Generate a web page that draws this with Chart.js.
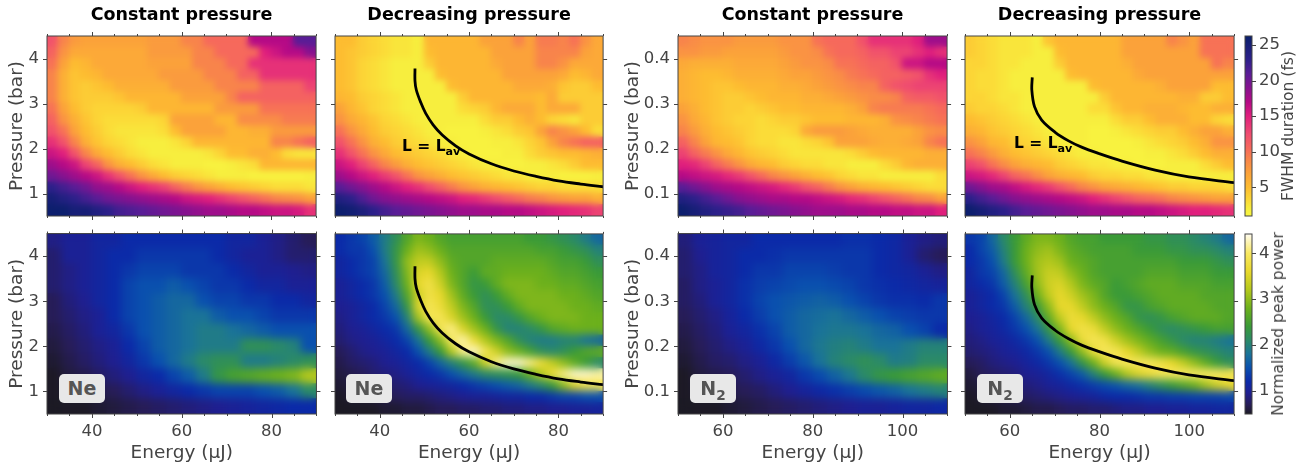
<!DOCTYPE html>
<html><head><meta charset="utf-8">
<script src="https://cdn.jsdelivr.net/npm/chart.js@4/dist/chart.umd.js"></script>
<style>
html,body{margin:0;padding:0;background:#fff;width:1307px;height:467px;overflow:hidden;font-family:"DejaVu Sans",sans-serif}
canvas{position:absolute}
.badge{position:absolute;width:46px;height:29px;line-height:29px;border-radius:5px;background:#e8e8e8;color:#555;font-weight:bold;font-size:19px;text-align:center}
.badge sub,.lav sub{font-size:.72em;line-height:0;vertical-align:-0.35em}
.lav{position:absolute;font-weight:bold;font-size:15.5px;color:#000;white-space:nowrap}
.cbt{position:absolute;font-size:15.5px;color:#444;white-space:nowrap;transform:translate(-50%,-50%) rotate(-90deg)}
</style></head><body>
<script>
const topLevels=[1,2,3,5,7,9,10.5,12.5,15,17,19,21,23,26.3];
const topColors=['#f8f640','#f7ee3e','#fbdc38','#fdbc31','#fba23a','#f8844b','#f6695c','#ef4c70','#e01f7d','#b50a86','#86128f','#591d96','#2c208a','#0a1f6b'];
const powerLevels=[.49,.7,.95,1.2,1.5,1.8,2.1,2.4,2.8,3.2,3.6,4,4.42];
const powerColors=['#1c1a24','#271d58','#1f1f90','#0b2aa8','#0a50ae','#1a7398','#2b8a68','#3a9a38','#6cb01c','#b4c81c','#e8d82c','#f8e860','#fffcf0'];

const energyNe=[30,90], energyN2=[50,110], pressureNe=[.5,4.5], pressureN2=[.05,.45];
const durationRange=[.97,26.26], powerRange=[.49,4.42];
const xMajorNe=[40,60,80], xMinorNe=[30,35,45,50,55,65,70,75,85,90];
const xMajorN2=[60,80,100], xMinorN2=[50,55,65,70,75,85,90,95,105,110];
const yMajorNe=[1,2,3,4], yMajorN2=[.1,.2,.3,.4];
const durationTicks=[5,10,15,20,25], powerTicks=[1,2,3,4];

const curveNeE=[47.9,47.9,48.2,49.2,50.3,52,54,57,60,65,70,75,80,85,90];
const curveNeP=[3.78,3.5,3.3,3.02,2.78,2.52,2.3,2.06,1.88,1.66,1.5,1.38,1.28,1.21,1.15];
const curveN2E=[65,64.9,65.5,67.1,70.1,73.1,76,79.8,85,92.4,99.9,110];
const curveN2P=[.358,.33,.293,.263,.236,.217,.203,.189,.172,.152,.137,.124];

const durNeConst=[
[12,9,7.5,7,7,7,7,7,7,7.5,7.5,7.5,9,9,10.5,10.5,10.5,10.5,17,17,17,17,21,21],
[11,8,6.5,6.5,6.5,6.5,6.5,6.5,6.5,7.5,7.5,7.5,7.5,9,9,10.5,10.5,10.5,10.5,15,16,17,17,19],
[10,7,5,5.5,6.5,6.5,6.5,6.5,6.5,7,7,7,7,9,9,9,10.5,10.5,14,14,14,14,14,14],
[9,6,4.5,5,5.5,6.5,6.5,6.5,6.5,6.5,7.5,7.5,7.5,7.5,9,9,9,11,11,14,14,14,14,14],
[9,6,4.5,4,4.5,5,6,6,6,6,6,7.5,7.5,7.5,7.5,9,9,9,9,11,11,11,11,13],
[9,6,4.5,4,4,4,4.5,5.5,5.5,5.5,5.5,5.5,7,7,7,7,9,11,11,11,11,11,11,11],
[10,7,5,4,3.5,3.5,3.5,3.5,4,5.5,5.5,5.5,5.5,5.5,5.5,7.5,7.5,7.5,7.5,10,10,10,10,10],
[11,8,6,4.5,3.5,3,3,3,3,3,3.5,7,7,7,7,5.5,5.5,8.5,8.5,8.5,8.5,9.5,9.5,9.5],
[12,10,7,5,4,3,2.5,2.5,2.5,2.5,3,5,7,7,7,7,5.5,5.5,6,6,7.5,7.5,7.5,7.5],
[14,12,9,6,4.5,3.5,3,2.5,2,2,2,2.5,3.5,5.5,5.5,5.5,5.5,5.5,5.5,5.5,9,9,10,11],
[16,15,12,9,6.5,5,4,3,2.5,2,2,2,2,2,2.5,3.5,5,5,6,6,5,3,2.5,2.5],
[18,17,16,13,11,8,6,5,4,3,2.5,2,2,2,1.5,1.5,2,2.5,3,5.5,5.5,5.5,5.5,5.5],
[20,19,18,17,16,14,12,10,8,6.5,5,4,3.5,3,2.5,2,2,2,1.5,1.5,1.5,1.5,1.5,2],
[23,22,21,20,18.5,18,17,16,15,14,13,11,9.5,8,7,6,5,4.5,4,3.5,3,3,3,2.5],
[25,24,23,22,21,20,19.5,19,18.5,18,17.5,17,16,15.5,15,14,13,12,11,10,9,8.5,8,7],
[26,26,25,25,24,23,22,21.5,21,20.5,20,19.5,19,18.5,18,18,17.5,17,17,16.5,16,16,15.5,14]];

const durNeDecr=[
[5,5,4,3.5,3,2.5,2.5,2,5.5,5.5,5.5,5.5,5.5,7,7,7,9,7,9.5,9.5,9,10,8,6.5],
[5,4.5,4,3.5,3,2.5,2.5,2,5,5.5,5.5,5.5,5.5,5.5,7,7,7,7,9,9,9,9,7,6.5],
[5,4.5,3.5,3,2.5,2,2,2,4,5.5,5.5,5.5,5.5,5.5,6.5,7,7,7,9,9,8,6.5,6.5,6.5],
[5,4.5,3.5,3,2.5,2,2,2,2,5,5.5,5.5,5.5,5.5,5.5,7,7,7,7,7,6.5,5,5.5,6.5],
[5,4.5,3.5,3,2.5,2,2,2,2,2,5,5.5,5.5,5.5,5.5,5.5,6.5,6.5,6.5,6,4.5,4,4,5],
[5.5,5,4,3.5,3,2.5,2,2,2,2,2,4,5.5,5.5,5.5,5.5,5.5,5.5,5,6.5,4,4,4,4],
[7,5.5,4.5,3.5,3,2.5,2,2,2,2,2,3,3.5,4,5.5,6.5,6.5,6.5,5,6.5,6.5,6.5,4,4],
[8,6.5,5.5,4.5,3.5,3,2.5,2,2,2,2,2,2,3,4,4,5,6,5,3.5,3,2.5,4,4],
[10,8,6.5,5,4,3.5,3,2.5,2,2,1.5,1.5,1.5,2,2.5,3,4,4.5,7,9,8,7,5,3],
[12,10,8,6,5,4,3.5,3,2.5,2,2,1.5,1.5,1.5,2,2,2.5,3.5,4.5,7,9,10,11,11],
[14,12,10,8,6.5,5,4.5,4,3.5,3,2.5,2,1.5,1.5,1.5,2,2,3,4,4.5,5,5,5.5,6],
[16,15,13,11,9,7.5,6,5,4.5,4,3.5,3,2.5,2,2,1.5,1.5,2,2,2.5,3,4,5,5],
[18,17,16,15,13.5,12,10,8,7,6,5,4.5,4,3.5,3,2.5,2.5,2,2,2,1.5,1.5,1.5,2],
[21,20,19,18,17,16,15,14,12.5,11,9.5,8,7,6,5.5,5,4.5,4,3.5,3.5,3,3,3,3],
[24,23,21.5,20,19,18.5,18,17.5,17,16.5,16,15,14.5,13.5,12.5,11.5,10.5,9.5,9,8,7.5,7,7,6],
[26,25.5,24.5,23,22,21,20.5,20,19.5,19,18.5,18,18,17.5,17.5,17,17,16.5,16,15.5,15,14.5,14,13]];

const durN2Const=[
[9,8.5,8,8,8,7.5,7.5,7.5,7.5,8,8,8,10,10.5,10.5,10.5,12,14,14,14,14,15,18,18],
[8,8,7.5,7.5,7,7,7,7,7,7.5,8,8,8.5,10,10.5,10.5,11,12,12,13,13,14,15,14],
[6.5,6,6,6,6,6.5,6.5,6.5,6.5,7,7.5,8,8,8.5,10,10,10.5,11,11,12,16,16,17,17],
[6,5.5,5,5,5.5,6,6,6,6,6.5,7,7,7.5,8,8.5,9.5,10,10.5,11,11,11.5,12,14,15],
[6,5.5,5,4.5,4.5,5,5.5,5.5,5.5,6,6,6.5,7,7.5,8,8.5,9,9,11,12,12.5,13,13,13],
[6,5.5,5,4.5,4,4,4.5,5,5.5,5.5,5.5,6,6,6.5,7,7.5,8,8.5,8.5,9,11,11.5,11.5,12],
[7,6,5,4.5,4,4,3.5,4,4.5,5,5,5.5,5.5,5.5,5.5,6,7,9,9.5,9.5,9.5,9.5,10,10.5],
[8,6.5,5.5,4.5,4,3.5,3.5,3,3.5,4,4,4.5,5,5,5,5.5,5.5,5.5,6,8,8.5,9,9.5,10],
[9,7.5,6,5,4.5,4,3.5,3,3,3,3.5,6.5,7.5,7.5,7.5,7,6.5,6,6,6,6,7,8,8.5],
[11,9,7,5.5,5,4.5,3.5,3,3,2.5,2.5,3,3.5,4.5,7,7,7,6.5,6,6,6.5,7,9,10],
[13,11,9.5,8,6.5,5.5,4.5,4,3.5,3,2.5,2.5,2.5,2.5,2.5,3,4,5,5.5,5.5,5.5,5.5,6,6],
[15,14.5,13,11,9.5,8,6.5,5.5,5,4,3.5,3,3,2.5,2.5,2,2,2,3,4,5.5,6,6,6],
[17,16.5,16,15.5,14.5,13.5,12,10.5,9,8,7,6,5,4.5,3.5,3,2.5,2.5,2,2,2,2,2,3],
[21,20,19,18,17.5,17,16.5,16,15.5,14.5,13.5,12,11,9.5,8,7,6,5.5,5,4.5,4,3.5,3,3],
[24,23,22,21,20,19,18.5,18,17.5,17.5,17,17,16.5,16,15.5,14.5,14,13,12,11,10,9,8.5,7],
[26,25,24,23,22.5,22,21,20.5,20,19.5,19,18.5,18,18,18,17.5,17.5,17,17,16.5,16.5,16,16,15]];

const durN2Decr=[
[4,3.5,3,2.5,2.5,2.5,2,4.5,5.5,5.5,5.5,5.5,5.5,5.5,7,7,7,7,9,8,7,10,10,10],
[4,3.5,3,2.5,2.5,2.5,2,2,5,5.5,5.5,5.5,5.5,5.5,7,7,7,7,7,7,7,10,10,10],
[3.5,3.5,3,2.5,2.5,2,2,2,4,5.5,5.5,5.5,5.5,5.5,6,7,7,7,7,7,7,7,10,9],
[3.5,3,3,2.5,2,2,2,2,2,5,5.5,5.5,5.5,5.5,5.5,6.5,7,7,7,7,7,7,7,7],
[3.5,3,3,2.5,2,2,2,2,2,2,2,5,5.5,5.5,5.5,5.5,5.5,6,7,7,7,7,5,5],
[3.5,3.5,3,2.5,2.5,2,2,2,2,2,2,2,4,5.5,5.5,5.5,5.5,5.5,5.5,6,6,4,4,5],
[4,3.5,3.5,3,2.5,2,2,2,2,2,2,3,3,4.5,5.5,5.5,6,6,6,5.5,5,5,6,6],
[5,4.5,4,3.5,3,2.5,2,2,2,2,2,2,2,3,4,4,5,6,6,6,5,5,3.5,3],
[6,5.5,4.5,4,3.5,3,2.5,2,2,2,2,1.5,1.5,2,2.5,3,3.5,4,4,5,6,7,7,6],
[8,7,5.5,5,4,3.5,3,2.5,2,2,2,1.5,1.5,1.5,1.5,2,2.5,3,3.5,4,5,6,8,8],
[10,9,7.5,6,5,4.5,4,3.5,3,2.5,2,2,1.5,1.5,1.5,1.5,2,2,2.5,3,4,5,6,6],
[13,12,10,8.5,7,6,5.5,5,4,3.5,3,2.5,2.5,2,2,1.5,1.5,1.5,2,2,2,3,4,5],
[16,15.5,14.5,13,11,10,8.5,7,6,5.5,5,4,3.5,3.5,3,3,2.5,2.5,2,2,2,2,2,2],
[20,19,18,17.5,16.5,15.5,14.5,13.5,12,10.5,9,8,7,6.5,6,5.5,5,4.5,4,4,3.5,3.5,3.5,3],
[23,22,21,20,19,18.5,18,17.5,17,16.5,16,15,14,13,12,11,10.5,10,9,8.5,8,7.5,7,7],
[26,25,24,23,22,21,20.5,20,19.5,19,18.5,18,18,17.5,17.5,17,17,16.5,16,15.5,15,15,14.5,14]];

const powNeConst=[
[.9,1,1,1.1,1.1,1.2,1.2,1.2,1.2,1.2,1.2,1.2,1.1,1.1,1,.9,.8,.7],
[.8,1,1,1.1,1.2,1.2,1.3,1.3,1.3,1.3,1.3,1.2,1.1,1,1,.9,.8,.8],
[.8,.9,1,1.1,1.2,1.3,1.4,1.4,1.4,1.3,1.3,1.3,1.2,1.1,1,1,.95,.9],
[.8,.9,1,1.1,1.2,1.4,1.5,1.5,1.6,1.5,1.4,1.3,1.3,1.2,1.1,1.1,1,1],
[.7,.85,.95,1.1,1.2,1.4,1.5,1.6,1.7,1.7,1.5,1.4,1.4,1.3,1.3,1.2,1.2,1.1],
[.7,.8,.9,1,1.2,1.4,1.5,1.6,1.7,1.8,1.8,1.6,1.5,1.5,1.4,1.3,1.3,1.3],
[.65,.75,.85,1,1.1,1.3,1.5,1.6,1.7,1.8,1.9,1.9,1.8,1.7,1.6,1.5,1.5,1.5],
[.6,.7,.8,.9,1,1.2,1.4,1.6,1.7,1.8,1.9,1.9,1.9,2.2,2.2,2.1,2,1.5],
[.55,.65,.75,.85,.95,1.1,1.3,1.5,1.7,1.9,2.1,2.2,2.2,1.9,1.9,2,2.1,2.2],
[.5,.6,.65,.75,.85,.95,1.1,1.2,1.4,1.6,1.9,2.3,2.5,2.6,2.7,2.8,2.9,3.2],
[.5,.55,.6,.65,.7,.8,.9,1,1.1,1.2,1.3,1.4,1.4,1.4,1.5,1.6,1.8,2.1],
[.45,.5,.5,.55,.6,.65,.7,.75,.8,.85,.9,.95,1,1.05,1.1,1.15,1.2,1.2]];

const powNeDecr=[
[1.2,1.3,1.4,1.6,1.9,2.2,2.6,2.9,2.8,2.6,2.5,2.5,2.5,2.5,2.5,2.5,2.5,2.4,2.4,2.3,2.2,2.1,1.9,1.7],
[1.2,1.3,1.3,1.5,1.9,2.3,2.8,3.1,3,2.8,2.6,2.6,2.6,2.6,2.6,2.6,2.6,2.6,2.5,2.5,2.4,2.3,2.2,2],
[1.1,1.2,1.3,1.4,1.8,2.3,3,3.3,3.3,3,2.7,2.6,2.6,2.6,2.7,2.7,2.7,2.7,2.7,2.6,2.5,2.5,2.4,2.2],
[1.1,1.2,1.3,1.4,1.7,2.2,2.9,3.5,3.6,3.2,2.8,2.6,2.4,2.7,2.7,2.8,2.8,2.8,2.8,2.7,2.6,2.6,2.5,2.4],
[1,1.1,1.2,1.3,1.6,2.1,2.8,3.6,3.8,3.4,2.9,2.6,2.3,2.4,2.7,2.9,2.9,2.9,2.8,2.8,2.7,2.7,2.6,2.5],
[1,1.1,1.2,1.3,1.5,1.9,2.6,3.4,3.8,3.6,3.1,2.7,2.4,2.2,2.4,2.7,2.9,2.9,2.9,2.9,2.8,2.8,2.7,2.6],
[.95,1,1.1,1.2,1.4,1.7,2.3,3.5,3.9,3.7,3.3,2.9,2.6,2.2,2.2,2.4,2.7,2.9,2.9,2.9,2.9,2.8,2.8,2.7],
[.9,1,1.1,1.2,1.3,1.5,2,3.1,3.9,3.9,3.5,3.1,2.8,2.4,2.1,2.1,2.3,2.6,2.8,2.9,2.9,2.9,2.8,2.8],
[.85,.95,1,1.1,1.2,1.3,1.7,2.3,3,3.9,4.1,3.5,3.1,2.8,2.3,2,2,2.1,2.3,2.6,2.7,2.8,2.8,2.8],
[.8,.9,.95,1,1.1,1.2,1.4,1.8,2.4,3,4,4.2,3.7,3.2,2.9,2.6,2.2,2,1.9,1.9,2,2,1.8,1.7],
[.7,.8,.9,.95,1,1.1,1.2,1.5,1.9,2.4,3.2,4.1,4.3,3.9,3.4,3,2.8,2.5,2.2,2.1,2.2,2.4,2.6,2.7],
[.65,.75,.8,.85,.95,1,1.1,1.2,1.4,1.7,2,2.3,2.7,3.4,4.1,4.3,4.3,4.1,3.7,3.3,3,2.7,2.4,2.1],
[.6,.65,.7,.8,.85,.9,1,1.1,1.2,1.3,1.5,1.7,1.9,2.1,2.2,2.3,2.4,2.8,3.2,3.7,4.1,4.3,4.3,4.2],
[.55,.6,.65,.7,.75,.8,.85,.95,1,1.05,1.1,1.2,1.3,1.4,1.5,1.6,1.7,1.9,2.1,2.4,3,3.5,3.8,3.9],
[.5,.55,.55,.6,.65,.7,.75,.75,.8,.85,.9,.95,1,1,1.05,1.1,1.1,1.2,1.2,1.3,1.4,1.4,1.5,1.5],
[.45,.45,.5,.5,.55,.55,.6,.6,.65,.7,.7,.75,.75,.8,.8,.85,.85,.9,.9,.95,.95,1,1,1.05]];

const powN2Const=[
[.85,1,1.05,1.1,1.1,1.2,1.2,1.2,1.2,1.2,1.2,1.25,1.25,1.2,1.15,1,.9,.85],
[.8,.95,1.05,1.1,1.2,1.2,1.25,1.3,1.3,1.3,1.3,1.3,1.3,1.2,1.15,1,.8,.7],
[.8,.9,1.05,1.1,1.2,1.3,1.3,1.4,1.4,1.4,1.35,1.3,1.3,1.2,1.15,1.1,1,.9],
[.75,.9,1,1.1,1.25,1.35,1.4,1.45,1.5,1.5,1.45,1.4,1.3,1.25,1.2,1.15,1.1,1.05],
[.75,.85,1,1.1,1.25,1.4,1.5,1.55,1.6,1.65,1.6,1.5,1.4,1.3,1.25,1.25,1.2,1.3],
[.7,.8,.9,1.05,1.2,1.35,1.5,1.6,1.7,1.75,1.8,1.7,1.6,1.5,1.4,1.35,1.3,1.3],
[.65,.75,.85,1,1.1,1.25,1.4,1.6,1.7,1.8,1.85,1.85,1.8,1.7,1.65,1.5,1.4,1.2],
[.6,.7,.8,.9,1,1.15,1.3,1.5,1.7,1.85,1.95,2,1.9,1.8,1.8,1.9,2,2],
[.55,.65,.75,.8,.9,1,1.15,1.35,1.55,1.8,2,2.1,2.2,2.1,1.9,1.95,2.1,2.1],
[.5,.6,.65,.7,.8,.9,1,1.1,1.3,1.45,1.65,1.85,2.1,2.3,2.4,2.5,2.6,2.7],
[.5,.55,.6,.65,.7,.75,.85,.95,1.05,1.15,1.25,1.35,1.45,1.55,1.65,1.8,1.9,2],
[.45,.5,.5,.55,.6,.65,.7,.75,.8,.85,.9,.95,1,1,1.05,1.1,1.1,1.15]];

const powN2Decr=[
[1.3,1.4,1.7,2.1,2.4,2.7,2.9,2.9,2.8,2.6,2.5,2.5,2.4,2.4,2.4,2.4,2.3,2.3,2.2,2.2,2.1,2,1.9,1.7],
[1.2,1.4,1.6,2,2.4,2.8,3,3.1,2.9,2.7,2.6,2.5,2.5,2.5,2.5,2.4,2.4,2.4,2.3,2.3,2.2,2.2,2.1,2],
[1.2,1.3,1.5,1.9,2.4,2.8,3.1,3.2,3.1,2.8,2.7,2.6,2.5,2.5,2.5,2.5,2.5,2.5,2.5,2.4,2.4,2.4,2.3,2.2],
[1.1,1.3,1.4,1.7,2.2,2.7,3.1,3.35,3.3,3,2.8,2.6,2.5,2.5,2.5,2.5,2.6,2.6,2.6,2.5,2.5,2.5,2.4,2.4],
[1.1,1.2,1.3,1.6,2,2.5,3,3.4,3.5,3.2,2.9,2.7,2.6,2.4,2.5,2.6,2.7,2.7,2.7,2.6,2.6,2.6,2.5,2.5],
[1,1.1,1.2,1.4,1.8,2.2,2.8,3.3,3.6,3.4,3.1,2.9,2.6,2.4,2.4,2.5,2.6,2.7,2.7,2.7,2.7,2.6,2.6,2.6],
[1,1.1,1.2,1.3,1.6,2,2.4,3,3.6,3.6,3.3,3,2.8,2.6,2.3,2.3,2.5,2.6,2.7,2.7,2.7,2.7,2.6,2.6],
[.95,1,1.1,1.2,1.4,1.7,2.1,2.7,3.3,3.7,3.6,3.3,3,2.8,2.6,2.3,2.2,2.3,2.5,2.6,2.7,2.7,2.7,2.6],
[.9,1,1.05,1.15,1.3,1.5,1.8,2.3,2.9,3.6,3.8,3.7,3.3,3,2.8,2.6,2.4,2.2,2.1,2.2,2.3,2.4,2.5,2.5],
[.85,.9,1,1.05,1.15,1.3,1.5,1.9,2.4,3,3.7,3.9,3.8,3.4,3.1,2.9,2.7,2.5,2.3,2.1,2,2,1.9,1.8],
[.8,.85,.9,1,1.05,1.15,1.3,1.5,1.9,2.4,3,3.7,3.95,3.9,3.6,3.3,3,2.8,2.7,2.5,2.3,2.2,2.1,2],
[.7,.75,.85,.9,.95,1.05,1.15,1.3,1.5,1.8,2.3,2.8,3.4,3.9,3.95,3.95,3.95,3.8,3.6,3.3,3,2.7,2.4,2.2],
[.6,.7,.75,.8,.85,.95,1,1.1,1.25,1.4,1.6,2,2.4,2.8,3.2,3.5,3.7,3.9,3.95,4,4,4,4,3.9],
[.55,.6,.7,.75,.8,.85,.9,1,1.05,1.15,1.25,1.35,1.45,1.55,1.7,1.8,2,2.2,2.4,2.6,2.8,3.1,3.4,3.6],
[.5,.55,.6,.65,.7,.75,.8,.85,.9,.95,1,1.05,1.15,1.2,1.2,1.25,1.3,1.3,1.35,1.35,1.4,1.4,1.4,1.45],
[.45,.45,.5,.55,.55,.6,.65,.65,.7,.75,.75,.8,.8,.85,.9,.9,.95,.95,1,1,1.05,1.05,1.1,1.1]];

const FONT='"DejaVu Sans"', INK='#444';

function colorAt(v,levels,colors){
  if(v<=levels[0])return colors[0];
  for(let i=1;i<levels.length;i++){
    if(v<=levels[i]){
      const t=(v-levels[i-1])/(levels[i]-levels[i-1]);
      const a=colors[i-1],b=colors[i],c=[1,3,5].map(k=>{
        const p=parseInt(a.substr(k,2),16),q=parseInt(b.substr(k,2),16);
        return Math.round(p+(q-p)*t);});
      return `rgb(${c[0]},${c[1]},${c[2]})`;
    }
  }
  return colors[colors.length-1];
}

const smooth={id:'smooth',afterDatasetDraw(chart,args,opts){
  if(args.index!==opts.index)return;
  const {ctx,canvas,chartArea:a}=chart;
  ctx.save();ctx.beginPath();ctx.rect(a.left,a.top,a.width,a.height);ctx.clip();
  ctx.filter=`blur(${opts.sigma}px)`;ctx.drawImage(canvas,0,0);ctx.restore();
}};
const frame={id:'frame',afterDraw(chart,args,o){
  const {ctx,chartArea:a,scales:s}=chart;
  ctx.save();ctx.strokeStyle=INK;ctx.lineWidth=1;ctx.beginPath();
  const line=(x1,y1,x2,y2)=>{ctx.moveTo(x1,y1);ctx.lineTo(x2,y2);};
  const xt=(v,l)=>{const p=Math.round(s.x.getPixelForValue(v))+.5;line(p,a.top,p,a.top-l);line(p,a.bottom,p,a.bottom+l);};
  const yt=(v,l)=>{const p=Math.round(s.y.getPixelForValue(v))+.5;
    if(!o.bar)line(a.left,p,a.left-l,p);line(a.right,p,a.right+l,p);};
  if(!o.bar){o.xMajor.forEach(v=>xt(v,4));o.xMinor.forEach(v=>xt(v,2));}
  o.yMajor.forEach(v=>yt(v,4));
  ctx.stroke();
  ctx.strokeRect(a.left,a.top,a.width,a.height);
  ctx.restore();
}};

function panel(p){
  const nRows=p.values.length,nCols=p.values[0].length;
  const pts=[],cols=[];
  p.values.forEach((row,r)=>row.forEach((v,c)=>{
    pts.push({x:p.xr[0]+(c+.5)*(p.xr[1]-p.xr[0])/nCols,
              y:p.yr[1]-(r+.5)*(p.yr[1]-p.yr[0])/nRows});
    cols.push(colorAt(v,p.levels,p.colors));
  }));
  const half=p.w/nCols/2+.7, radius=half*Math.SQRT2;
  const datasets=[];
  if(p.cx)datasets.push({data:p.cx.map((x,i)=>({x,y:p.cy[i]})),showLine:true,tension:.35,
    borderColor:'#000',borderWidth:2.8,pointRadius:0,clip:0,borderCapStyle:'butt'});
  datasets.push({data:pts,pointStyle:'rect',pointRadius:radius,pointBackgroundColor:cols,pointBorderWidth:0,clip:0});
  const bottomRow=p.row===1, mB=bottomRow?50:10, pT=bottomRow?6:0;
  const wantTop=bottomRow?234:36;
  function build(W,H){
    const c=document.createElement('canvas');
    c.width=W;c.height=H;c.style.left='0px';c.style.top='0px';
    document.body.appendChild(c);
    return new Chart(c,{type:'scatter',data:{datasets},plugins:[smooth,frame],options:{
      responsive:false,maintainAspectRatio:false,animation:false,events:[],
      layout:{padding:{top:pT,right:8,left:0,bottom:0}},
      plugins:{legend:{display:false},tooltip:{enabled:false},
        title:p.title?{display:true,text:p.title,color:'#000',fullSize:false,
          font:{family:FONT,weight:'bold',size:17.5},padding:{top:5,bottom:10}}:{display:false},
        smooth:{index:datasets.length-1,sigma:p.sigma},
        frame:{xMajor:p.xMajor,xMinor:p.xMinor,yMajor:p.yMajor}},
      scales:{
        x:{type:'linear',min:p.xr[0],max:p.xr[1],grid:{display:false,drawTicks:false},border:{display:false},
          afterBuildTicks:s=>{s.ticks=p.xMajor.map(value=>({value}));},
          afterFit:s=>{s.height=mB;s.paddingLeft=0;s.paddingRight=0;},
          ticks:{display:bottomRow,padding:8,color:INK,autoSkip:false,maxRotation:0,font:{family:FONT,size:16.5},callback:v=>String(v)},
          title:{display:bottomRow,text:'Energy (µJ)',color:INK,font:{family:FONT,size:18.5},padding:0}},
        y:{type:'linear',min:p.yr[0],max:p.yr[1],grid:{display:false,drawTicks:false},border:{display:false},
          afterBuildTicks:s=>{s.ticks=p.yMajor.map(value=>({value}));},
          afterFit:s=>{s.width=p.mL;s.paddingTop=0;s.paddingBottom=0;},
          ticks:{display:!!p.yLabel,padding:8,color:INK,autoSkip:false,font:{family:FONT,size:16.5},callback:v=>String(v)},
          title:{display:!!p.yLabel,text:'Pressure (bar)',color:INK,font:{family:FONT,size:18.5},padding:{top:p.titlePad,bottom:0}}}
      }}});
  }
  const W0=p.mL+p.w+8,H0=(bottomRow?6:36)+180+mB;
  const probe=build(W0,H0), m=probe.chartArea, W=W0+(p.w-m.width), H=H0+(180-m.height), pc=probe.canvas;
  probe.destroy();pc.remove();
  const chart=build(Math.round(W),Math.round(H)), a=chart.chartArea;
  chart.canvas.style.left=(p.left-a.left)+'px';
  chart.canvas.style.top=(wantTop-a.top)+'px';
}

function colorbar(top,range,levels,colors,ticks,label,labelX,pT){
  const c=document.createElement('canvas');
  c.width=107;c.height=(pT)+180+8;c.style.left='1200px';c.style.top=(top-pT)+'px';
  document.body.appendChild(c);
  new Chart(c,{type:'bar',data:{labels:[''],datasets:[{data:[range],barPercentage:1,categoryPercentage:1,
    backgroundColor:ctx=>{const a=ctx.chart.chartArea;if(!a)return'#888';
      const g=ctx.chart.ctx.createLinearGradient(0,a.bottom,0,a.top);
      levels.forEach((v,i)=>g.addColorStop(Math.min(1,Math.max(0,(v-range[0])/(range[1]-range[0]))),colors[i]));return g;}}]},
    plugins:[frame],options:{responsive:false,animation:false,events:[],
    layout:{padding:{left:45,top:pT,bottom:8,right:0}},
    plugins:{legend:{display:false},tooltip:{enabled:false},frame:{bar:true,yMajor:ticks}},
    scales:{x:{display:false},
      y:{position:'right',min:range[0],max:range[1],grid:{display:false,drawTicks:false},border:{display:false},
        afterBuildTicks:s=>{s.ticks=ticks.map(value=>({value}));},
        afterFit:s=>{s.width=55;s.paddingTop=0;s.paddingBottom=0;},
        ticks:{padding:7,color:INK,autoSkip:false,font:{family:FONT,size:16.5},callback:v=>String(v)}}}}});
  const d=document.createElement('div');d.className='cbt';d.textContent=label;
  d.style.left=labelX+'px';d.style.top=(top+90)+'px';document.body.appendChild(d);
}

const ne={xr:energyNe,xMajor:xMajorNe,xMinor:xMinorNe,yr:pressureNe,yMajor:yMajorNe};
const n2={xr:energyN2,xMajor:xMajorN2,xMinor:xMinorN2,yr:pressureN2,yMajor:yMajorN2};
const dur={levels:topLevels,colors:topColors,row:0,sigma:3.2};
const pow={levels:powerLevels,colors:powerColors,row:1,sigma:4.5};
panel({...ne,...dur,left:47,w:269,mL:47,yLabel:1,titlePad:6,title:'Constant pressure',values:durNeConst});
panel({...ne,...dur,left:335,w:268,mL:10,title:'Decreasing pressure',values:durNeDecr,cx:curveNeE,cy:curveNeP});
panel({...n2,...dur,left:678,w:269,mL:60,yLabel:1,titlePad:4,title:'Constant pressure',values:durN2Const});
panel({...n2,...dur,left:965,w:269,mL:10,title:'Decreasing pressure',values:durN2Decr,cx:curveN2E,cy:curveN2P});
panel({...ne,...pow,left:47,w:269,mL:47,yLabel:1,titlePad:6,values:powNeConst});
panel({...ne,...pow,left:335,w:268,mL:10,values:powNeDecr,cx:curveNeE,cy:curveNeP});
panel({...n2,...pow,left:678,w:269,mL:60,yLabel:1,titlePad:4,values:powN2Const});
panel({...n2,...pow,left:965,w:269,mL:10,values:powN2Decr,cx:curveN2E,cy:curveN2P});
colorbar(36,durationRange,topLevels,topColors,durationTicks,'FWHM duration (fs)',1288,6);
colorbar(234,powerRange,powerLevels,powerColors,powerTicks,'Normalized peak power',1278,6);

function note(cls,html,x,y){const d=document.createElement('div');d.className=cls;d.innerHTML=html;d.style.left=x+'px';d.style.top=y+'px';document.body.appendChild(d);}
note('badge','Ne',59,374);note('badge','Ne',346,374);
note('badge','N<sub>2</sub>',690,374);note('badge','N<sub>2</sub>',977,374);
note('lav','L = L<sub>av</sub>',402,137);note('lav','L = L<sub>av</sub>',1014,134);
</script>
</body></html>
